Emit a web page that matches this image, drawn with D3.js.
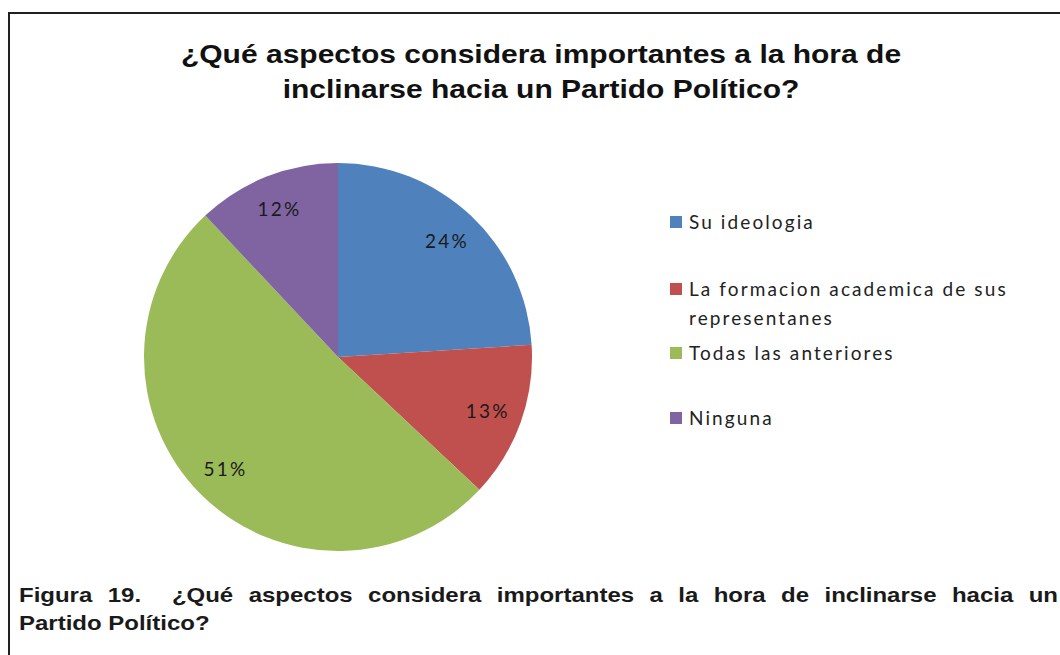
<!DOCTYPE html>
<html>
<head>
<meta charset="utf-8">
<script src="https://cdn.jsdelivr.net/npm/d3@7"></script>
<style>
  html, body { margin: 0; padding: 0; background: #fff; }
  svg { display: block; }
</style>
</head>
<body>
<svg id="chart" width="1060" height="655"></svg>
<script>
// Survey answers and their shares (%)
const categories = [
  "Su ideologia",
  "La formacion academica de sus representanes",
  "Todas las anteriores",
  "Ninguna"
];
const values = [24, 13, 51, 12];
const colors = ["#4F81BD", "#C0504D", "#9BBB59", "#8064A2"];
const legendLines = [
  ["Su ideologia"],
  ["La formacion academica de sus", "representanes"],
  ["Todas las anteriores"],
  ["Ninguna"]
];
const titleLines = [
  "¿Qué aspectos considera importantes a la hora de",
  "inclinarse hacia un Partido Político?"
];
const captionLine1 = ["Figura", "19.", "¿Qué", "aspectos", "considera", "importantes", "a", "la", "hora", "de", "inclinarse", "hacia", "un"];
const captionLine2 = "Partido Político?";

const sansBold = "'Liberation Sans', Arimo, Arial, Helvetica, sans-serif";
const bodyFont = "Lato, 'Open Sans', sans-serif";
const stretch = 1.2; // horizontal stretch of the heading type

const svg = d3.select("#chart");

// frame around the chart area
svg.append("path")
  .attr("d", "M9,700 L9,13 L1100,13")
  .attr("fill", "none")
  .attr("stroke", "#231f20")
  .attr("stroke-width", 2);

// title
const title = svg.append("g")
  .attr("transform", `translate(541,0) scale(${stretch},1)`)
  .append("text")
  .attr("text-anchor", "middle")
  .style("font-family", sansBold)
  .attr("font-weight", "bold")
  .attr("font-size", 25)
  .attr("fill", "#111");
titleLines.forEach((t, i) => {
  title.append("tspan").attr("x", 0).attr("y", 63 + i * 35).text(t);
});

// pie
const cx = 338, cy = 357, R = 194;
const pie = d3.pie().sort(null).value(d => d)(values);
const arc = d3.arc().innerRadius(0).outerRadius(R);
const labelArc = d3.arc().innerRadius(R * 0.82).outerRadius(R * 0.82);

const g = svg.append("g").attr("transform", `translate(${cx},${cy})`);
g.selectAll("path.slice")
  .data(pie)
  .join("path")
  .attr("class", "slice")
  .attr("d", arc)
  .attr("fill", (d, i) => colors[i]);

g.selectAll("text.pct")
  .data(pie)
  .join("text")
  .attr("class", "pct")
  .attr("transform", d => `translate(${labelArc.centroid(d)})`)
  .attr("text-anchor", "middle")
  .attr("dy", "0.35em")
  .style("font-family", bodyFont)
  .attr("font-size", 19)
  .attr("letter-spacing", 2.2)
  .attr("fill", "#1a1a1a")
  .text(d => d.data + "%");

// legend
const legendY = [222, 289, 353, 418];
const legend = svg.append("g")
  .style("font-family", bodyFont)
  .attr("font-size", 19)
  .attr("letter-spacing", 2.1)
  .attr("fill", "#222");
categories.forEach((c, i) => {
  legend.append("rect")
    .attr("x", 670).attr("y", legendY[i] - 6)
    .attr("width", 12).attr("height", 12)
    .attr("fill", colors[i]);
  const t = legend.append("text").attr("x", 689);
  legendLines[i].forEach((ln, j) => {
    t.append("tspan").attr("x", 689).attr("y", legendY[i] + 7 + j * 29).text(ln);
  });
});

// figure caption, justified across the page width
const capG = svg.append("g")
  .attr("transform", `scale(${stretch},1)`)
  .style("font-family", sansBold)
  .attr("font-weight", "bold")
  .attr("font-size", 20)
  .attr("fill", "#1a1a1a");
const left = 19 / stretch, right = 1058 / stretch;
const nodes = captionLine1.map(w => capG.append("text").attr("y", 602).text(w));
const widths = nodes.map(n => n.node().getComputedTextLength());
const total = widths.reduce((a, b) => a + b, 0);
// "19." is followed by a double space, counted as one extra gap
const gaps = captionLine1.length;
const gap = (right - left - total) / gaps;
let x = left;
nodes.forEach((n, i) => {
  n.attr("x", x);
  x += widths[i] + gap * (captionLine1[i] === "19." ? 2 : 1);
});
capG.append("text").attr("x", left).attr("y", 630).text(captionLine2);
</script>
</body>
</html>
